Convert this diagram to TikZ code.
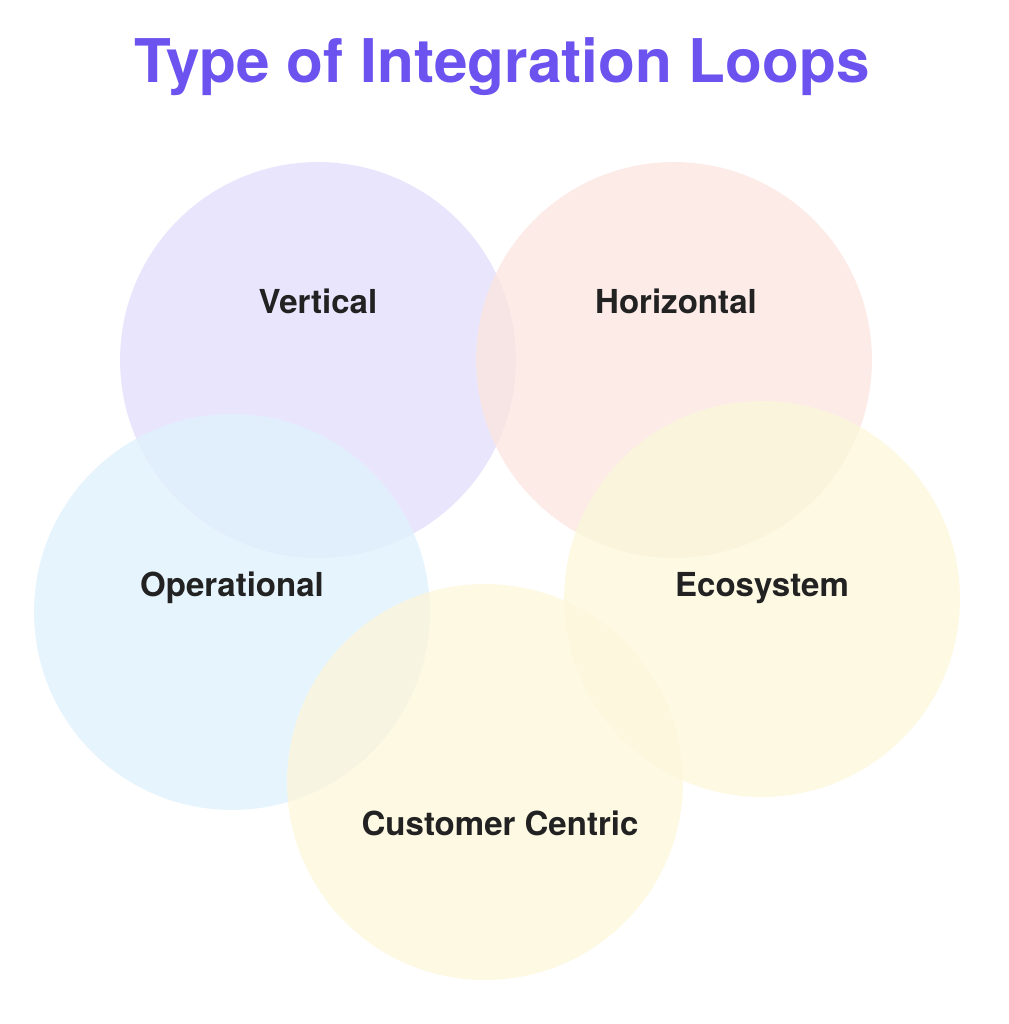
\documentclass[tikz,border=0pt]{standalone}
\usepackage{fontspec}
\setmainfont{TeX Gyre Heros}

\definecolor{titlepurple}{RGB}{108,82,238}
\definecolor{labeltext}{RGB}{34,34,34}
\definecolor{vertfill}{RGB}{228,223,251}
\definecolor{horizfill}{RGB}{251,230,225}
\definecolor{operfill}{RGB}{224,241,252}
\definecolor{ecofill}{RGB}{252,247,220}
\definecolor{custfill}{RGB}{252,247,220}

\begin{document}
\begin{tikzpicture}[x=0.02cm, y=-0.02cm,
                    loop circle/.style={circle, inner sep=0pt, minimum size=7.92cm, fill opacity=0.8},
                    loop label/.style={anchor=base, text=labeltext, font=\bfseries\fontsize{18.8}{22}\selectfont}]

  \useasboundingbox (0,0) rectangle (1008,1024);

  \node[anchor=base, text=titlepurple, font=\bfseries\fontsize{34.3}{40}\selectfont] (title) at (502,83) {Type of Integration Loops};

  % the five loops
  \node[loop circle, fill=vertfill] (vertical) at (318,360) {};
  \node[loop circle, fill=horizfill] (horizontal) at (674,360) {};
  \node[loop circle, fill=operfill] (operational) at (232,612) {};
  \node[loop circle, fill=ecofill] (ecosystem) at (762,599) {};
  \node[loop circle, fill=custfill] (customer) at (485,782) {};

  \node[loop label] (vertical label) at (318,313) {Vertical};
  \node[loop label] (horizontal label) at (676,313) {Horizontal};
  \node[loop label] (operational label) at (232,596) {Operational};
  \node[loop label] (ecosystem label) at (762,596) {Ecosystem};
  \node[loop label] (customer label) at (500,835) {Customer Centric};

\end{tikzpicture}
\end{document}
